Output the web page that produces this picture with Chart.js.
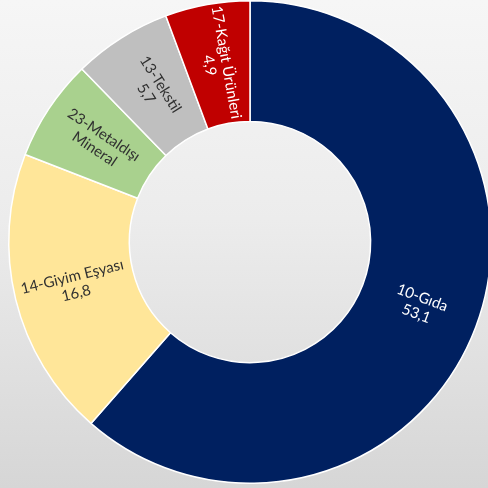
<!DOCTYPE html>
<html>
<head>
<meta charset="utf-8">
<script src="https://cdn.jsdelivr.net/npm/chart.js@4/dist/chart.umd.min.js"></script>
<style>
html,body{margin:0;padding:0;width:488px;height:488px;overflow:hidden;}
body{background:linear-gradient(to bottom,#f6f6f6 0%,#ececec 45%,#d6d6d6 100%);position:relative;}
#wrap{position:absolute;left:0;top:0;width:492px;height:488px;}
</style>
</head>
<body>
<div id="wrap"><canvas id="c" width="492" height="488"></canvas></div>
<script>
const categories = ["10-Gıda", "14-Giyim Eşyası", "23-Metaldışı Mineral", "13-Tekstil", "17-Kağıt Ürünleri"];
const labelLines = [["10-Gıda"], ["14-Giyim Eşyası"], ["23-Metaldışı", "Mineral"], ["13-Tekstil"], ["17-Kağıt Ürünleri"]];
const values = [53.1, 16.8, 5.9, 5.7, 4.9];
const showValue = [true, true, false, true, true];
const colors = ["#002060", "#FFE699", "#A9D18E", "#BFBFBF", "#C00000"];
const textColors = ["#ffffff", "#303030", "#303030", "#303030", "#ffffff"];

const fmt = v => v.toFixed(1).replace('.', ',');

const labelPlugin = {
  id: 'arcLabels',
  afterDatasetsDraw(chart) {
    const ctx = chart.ctx;
    const meta = chart.getDatasetMeta(0);
    meta.data.forEach((arc, i) => {
      const p = arc.getProps(['x','y','startAngle','endAngle','innerRadius','outerRadius'], true);
      const mid = (p.startAngle + p.endAngle) / 2;
      const r = (p.innerRadius + p.outerRadius) / 2;
      const x = p.x + Math.cos(mid) * r;
      const y = p.y + Math.sin(mid) * r;
      let rot = mid;
      while (rot > Math.PI / 2) rot -= Math.PI;
      while (rot <= -Math.PI / 2) rot += Math.PI;
      const lines = labelLines[i].slice();
      if (showValue[i]) lines.push(fmt(values[i]));
      ctx.save();
      ctx.translate(x, y);
      ctx.rotate(rot);
      ctx.fillStyle = textColors[i];
      ctx.font = '15px Lato, "Open Sans", sans-serif';
      ctx.textAlign = 'center';
      ctx.textBaseline = 'middle';
      const lh = 17;
      const start = -(lines.length - 1) * lh / 2;
      lines.forEach((t, k) => ctx.fillText(t, 0, start + k * lh));
      ctx.restore();
    });
  }
};

new Chart(document.getElementById('c'), {
  type: 'doughnut',
  data: {
    labels: categories,
    datasets: [{
      data: values,
      backgroundColor: colors,
      borderColor: '#ffffff',
      borderWidth: 1.5,
      hoverOffset: 0
    }]
  },
  options: {
    responsive: false,
    animation: false,
    cutout: '50%',
    layout: { padding: { left: 8, right: 0, top: 0, bottom: 4 } },
    plugins: { legend: { display: false }, tooltip: { enabled: false } }
  },
  plugins: [labelPlugin]
});
</script>
</body>
</html>
